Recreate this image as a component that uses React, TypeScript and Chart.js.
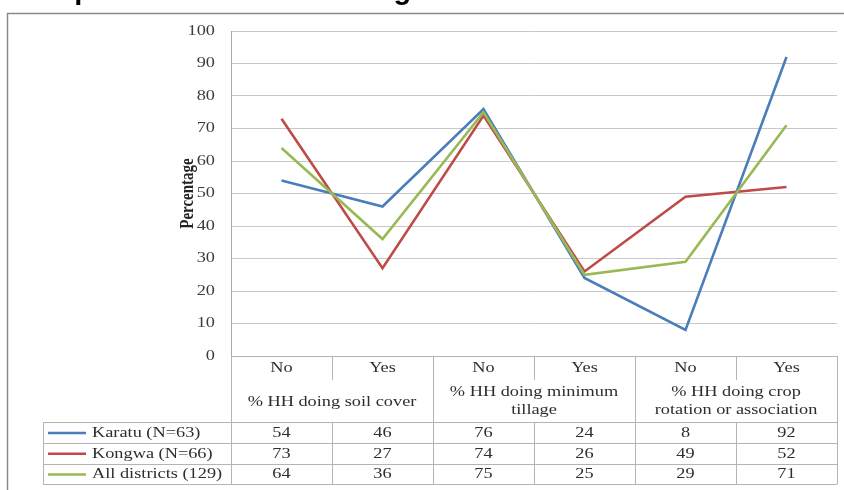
import React, { useEffect, useRef } from "react";
import { Chart, registerables } from "chart.js";

Chart.register(...registerables);

const chartTitle = "Adoption of conservation agriculture";
const categories = ["No", "Yes", "No", "Yes", "No", "Yes"];
const groupLabels = [
  ["% HH doing soil cover"],
  ["% HH doing minimum", "tillage"],
  ["% HH doing crop", "rotation or association"],
];
const seriesNames = ["Karatu (N=63)", "Kongwa (N=66)", "All districts (129)"];
const karatu = [54, 46, 76, 24, 8, 92];
const kongwa = [73, 27, 74, 26, 49, 52];
const allDistricts = [64, 36, 75, 25, 29, 71];
const seriesColors = ["#4A7EBB", "#BE4B48", "#98B954"];
const yAxisTitle = "Percentage";

const SX = 1.22;
const FONT = '"Liberation Serif", "Times New Roman", serif';
const TEXT = "#2e2e2e";
const LINE = "#b4b4b4";

function sText(ctx: CanvasRenderingContext2D, text: string, x: number, y: number, align: CanvasTextAlign) {
  ctx.save();
  ctx.translate(x, y);
  ctx.scale(SX, 1);
  ctx.textAlign = align;
  ctx.textBaseline = "middle";
  ctx.fillText(text, 0, 0);
  ctx.restore();
}

function hLine(ctx: CanvasRenderingContext2D, x1: number, x2: number, y: number) {
  ctx.beginPath();
  ctx.moveTo(x1, Math.round(y) + 0.5);
  ctx.lineTo(x2, Math.round(y) + 0.5);
  ctx.stroke();
}
function vLine(ctx: CanvasRenderingContext2D, x: number, y1: number, y2: number) {
  ctx.beginPath();
  ctx.moveTo(Math.round(x) + 0.5, y1);
  ctx.lineTo(Math.round(x) + 0.5, y2);
  ctx.stroke();
}

const tablePlugin = {
  id: "tablePlugin",
  beforeDraw(chart: any) {
    const ctx: CanvasRenderingContext2D = chart.ctx;
    ctx.save();
    ctx.fillStyle = "#ffffff";
    ctx.fillRect(0, 0, chart.width, chart.height);
    // cut-off title above the frame
    ctx.fillStyle = "#000000";
    ctx.font = 'bold 29px "Liberation Sans", Arial, sans-serif';
    ctx.textAlign = "left";
    ctx.textBaseline = "alphabetic";
    ctx.fillText(chartTitle, 18, -1);
    ctx.strokeStyle = "#8a8a8a";
    ctx.lineWidth = 1.5;
    ctx.beginPath();
    ctx.moveTo(7.5, chart.height + 5);
    ctx.lineTo(7.5, 13.5);
    ctx.lineTo(chart.width + 5, 13.5);
    ctx.stroke();
    ctx.restore();
  },
  afterDraw(chart: any) {
    const ctx: CanvasRenderingContext2D = chart.ctx;
    const xs = chart.scales.x;
    const ys = chart.scales.y;
    const area = chart.chartArea;
    ctx.save();

    // y tick labels
    ctx.fillStyle = "#3c3c3c";
    ctx.font = `15px ${FONT}`;
    ys.ticks.forEach((t: any) => {
      const py = ys.getPixelForValue(t.value);
      sText(ctx, String(t.value), area.left - 16, py, "right");
    });

    // y axis title
    ctx.save();
    ctx.fillStyle = "#222222";
    ctx.font = `bold 15px ${FONT}`;
    ctx.translate(area.left - 43, (area.top + area.bottom) / 2);
    ctx.scale(SX, 1);
    ctx.rotate(-Math.PI / 2);
    ctx.textAlign = "center";
    ctx.textBaseline = "middle";
    ctx.fillText(yAxisTitle, 0, 0);
    ctx.restore();

    // table geometry
    const n = categories.length;
    const half = (xs.getPixelForValue(1) - xs.getPixelForValue(0)) / 2;
    const bound = (i: number) => xs.getPixelForValue(i) - half;
    const right = bound(n);
    const top = area.bottom;
    const r1 = top + 24;
    const r2 = top + 66;
    const rowH = 20.8;
    const legendLeft = 43;

    ctx.strokeStyle = LINE;
    ctx.lineWidth = 1;
    hLine(ctx, area.left, right, top);
    hLine(ctx, legendLeft, right, r2);
    for (let k = 1; k <= seriesNames.length; k++) hLine(ctx, legendLeft, right, r2 + k * rowH);
    const bottom = r2 + seriesNames.length * rowH;
    vLine(ctx, legendLeft, r2, bottom);
    for (let i = 0; i <= n; i++) {
      if (i % 2 === 0) {
        vLine(ctx, bound(i), top, bottom);
      } else {
        vLine(ctx, bound(i), top, r1);
        vLine(ctx, bound(i), r2, bottom);
      }
    }

    ctx.fillStyle = TEXT;
    ctx.font = `15px ${FONT}`;
    categories.forEach((c, i) => {
      sText(ctx, c, xs.getPixelForValue(i), top + 12, "center");
    });
    groupLabels.forEach((lines, g) => {
      const cx = (bound(2 * g) + bound(2 * g + 2)) / 2;
      if (lines.length === 1) {
        sText(ctx, lines[0], cx, top + 46, "center");
      } else {
        sText(ctx, lines[0], cx, top + 36, "center");
        sText(ctx, lines[1], cx, top + 54, "center");
      }
    });

    chart.data.datasets.forEach((ds: any, k: number) => {
      const cy = r2 + k * rowH + rowH / 2 + 0.5;
      ctx.strokeStyle = ds.borderColor;
      ctx.lineWidth = 2.5;
      ctx.beginPath();
      ctx.moveTo(48, cy);
      ctx.lineTo(86, cy);
      ctx.stroke();
      ctx.fillStyle = TEXT;
      sText(ctx, ds.label, 92, cy, "left");
      ds.data.forEach((v: number, i: number) => {
        sText(ctx, String(v), xs.getPixelForValue(i), cy, "center");
      });
    });

    ctx.restore();
  },
};

export default function App() {
  const ref = useRef<HTMLCanvasElement | null>(null);
  useEffect(() => {
    if (!ref.current) return;
    const seriesData = [karatu, kongwa, allDistricts];
    const chart = new Chart(ref.current, {
      type: "line",
      data: {
        labels: categories,
        datasets: seriesNames.map((name, k) => ({
          label: name,
          data: seriesData[k],
          borderColor: seriesColors[k],
          backgroundColor: seriesColors[k],
          borderWidth: 2.6,
          pointRadius: 0,
          tension: 0,
          order: 3 - k,
        })),
      },
      options: {
        animation: false,
        responsive: true,
        maintainAspectRatio: false,
        layout: { padding: { left: 0, right: 7, top: 31, bottom: 134 } },
        plugins: { legend: { display: false }, tooltip: { enabled: false }, title: { display: false } },
        scales: {
          x: { display: false, offset: true },
          y: {
            min: 0,
            max: 100,
            ticks: { stepSize: 10, display: false },
            grid: { color: "#c8c8c8", drawTicks: false, lineWidth: 1 },
            border: { display: true, color: "#a8a8a8", width: 1 },
            afterFit: (scale: any) => {
              scale.width = 231;
            },
          },
        },
      },
      plugins: [tablePlugin],
    });
    return () => chart.destroy();
  }, []);
  return (
    <div style={{ position: "fixed", left: 0, top: 0, width: 844, height: 490, background: "#fff" }}>
      <canvas ref={ref} />
    </div>
  );
}
